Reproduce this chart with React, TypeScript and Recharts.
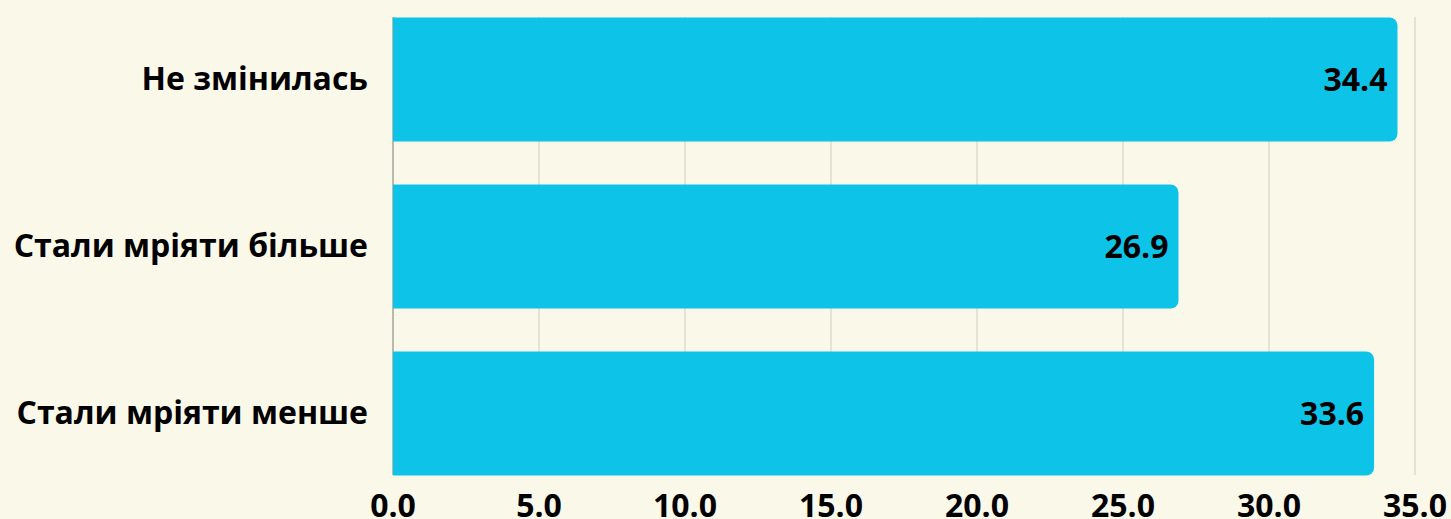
import React from "react";
import {
  BarChart,
  Bar,
  XAxis,
  YAxis,
  CartesianGrid,
  LabelList,
} from "recharts";

const categories = ["Не змінилась", "Стали мріяти більше", "Стали мріяти менше"];
const values = [34.4, 26.9, 33.6];
const xTicks = [0, 5, 10, 15, 20, 25, 30, 35];

const data = categories.map((name, i) => ({ name, value: values[i] }));

const BG = "#faf8e8";
const FONT = "'Open Sans', sans-serif";

// grid lines stop at the outer bar edges, not the full band
const GridLine = (p: any) => (
  <line
    key={p.key}
    x1={p.x1}
    x2={p.x2}
    y1={p.y1 + 21.5}
    y2={p.y2 - 21.5}
    stroke={p.index === 0 ? "#7a7a72" : "#cfcdbf"}
    strokeWidth={1}
  />
);

export default function App() {
  return (
    <div style={{ position: "absolute", left: 0, top: -10, width: 1451, height: 529, background: BG }}>
      <style>{`body{margin:0;background:${BG};}`}</style>
      <BarChart
        width={1451}
        height={529}
        data={data}
        layout="vertical"
        margin={{ top: 5.5, right: 36, left: 0, bottom: 0 }}
        style={{ fontFamily: FONT }}
      >
        <CartesianGrid horizontal={false} vertical={GridLine} />
        <XAxis
          type="number"
          domain={[0, 35]}
          ticks={xTicks}
          tickFormatter={(v: number) => v.toFixed(1)}
          axisLine={false}
          tickLine={false}
          tickSize={0}
          tickMargin={0}
          height={22.5}
          interval={0}
          tick={{ fill: "#000", fontSize: 32, fontWeight: 700, fontFamily: FONT, dy: -2.5 }}
        />
        <YAxis
          type="category"
          dataKey="name"
          width={393}
          axisLine={false}
          tickLine={false}
          tickSize={0}
          tickMargin={25}
          tick={{ fill: "#000", fontSize: 32, fontWeight: 700, fontFamily: FONT }}
        />
        <Bar dataKey="value" fill="#0ec3e8" barSize={124} radius={[0, 8, 8, 0]} isAnimationActive={false}>
          <LabelList
            dataKey="value"
            position="insideRight"
            offset={10}
            formatter={(v: any) => Number(v).toFixed(1)}
            style={{ fill: "#000", fontSize: 32, fontWeight: 700, fontFamily: FONT }}
          />
        </Bar>
      </BarChart>
    </div>
  );
}
